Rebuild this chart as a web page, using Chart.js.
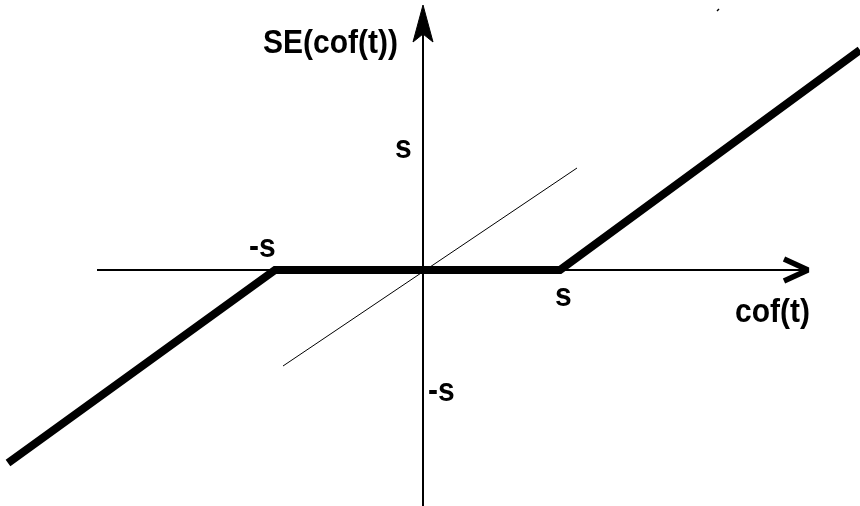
<!DOCTYPE html>
<html>
<head>
<meta charset="utf-8">
<script src="https://cdn.jsdelivr.net/npm/chart.js@4/dist/chart.umd.min.js"></script>
<style>
html,body{margin:0;padding:0;background:#fff;}
#wrap{width:860px;height:506px;}
</style>
</head>
<body>
<div id="wrap"><canvas id="c" width="860" height="506"></canvas></div>
<script>
// soft-threshold function SE(cof(t))  (units: origin at axes crossing)
const softX = [-415, -148, 137, 437];
const softY = [-193, 0, 0, 220];
// identity reference line
const identX = [-140, 154];
const identY = [-96, 102];
// axes
const xAxisX = [-326, 384];
const yAxisY = [-236, 236];
// text labels
const labelText = ["SE(cof(t))", "s", "-s", "s", "cof(t)", "-s"];
const labelX = [-160, -28, -174, 132, 312, 5];
const labelY = [217, 112, 13, -36, -52, -131];

const pts = (xs, ys) => xs.map((x, i) => ({x: x, y: ys[i]}));

const labelPlugin = {
  id: 'labels',
  afterDatasetsDraw(chart) {
    const ctx = chart.ctx, xs = chart.scales.x, ys = chart.scales.y;
    ctx.save();
    ctx.fillStyle = '#000';
    ctx.font = 'bold 30px "Liberation Sans", Arial, sans-serif';
    ctx.textBaseline = 'alphabetic';
    ctx.textAlign = 'left';
    labelText.forEach((t, i) => {
      const px = xs.getPixelForValue(labelX[i]), py = ys.getPixelForValue(labelY[i]);
      ctx.save();
      ctx.translate(px, py);
      ctx.scale(1, 1.08);
      ctx.fillText(t, 0, 0);
      ctx.restore();
    });
    ctx.restore();
  }
};

const base = {showLine: true, pointRadius: 0, borderColor: '#000', tension: 0, fill: false, borderCapStyle: 'butt', borderJoinStyle: 'miter'};

new Chart(document.getElementById('c'), {
  type: 'scatter',
  data: {
    datasets: [
      Object.assign({}, base, {data: pts(xAxisX, [0, 0]), borderWidth: 2}),
      Object.assign({}, base, {data: pts([0, 0], yAxisY), borderWidth: 2}),
      Object.assign({}, base, {data: pts([361, 385, 361], [11, 0, -11]), borderWidth: 5.5, borderJoinStyle: 'bevel'}),
      Object.assign({}, base, {data: pts([0, 10, 0, -10, 0], [265, 228, 236, 228, 265]), borderWidth: 1, fill: 'shape', backgroundColor: '#000'}),
      Object.assign({}, base, {data: pts(identX, identY), borderWidth: 1}),
      Object.assign({}, base, {data: pts(softX, softY), borderWidth: 8}),
      Object.assign({}, base, {data: pts([294, 296], [259, 261]), borderWidth: 1.5})
    ]
  },
  options: {
    responsive: false,
    animation: false,
    layout: {padding: 0},
    plugins: {legend: {display: false}, tooltip: {enabled: false}},
    scales: {
      x: {type: 'linear', display: false, min: -423, max: 437},
      y: {type: 'linear', display: false, min: -236, max: 270}
    }
  },
  plugins: [labelPlugin]
});
</script>
</body>
</html>
